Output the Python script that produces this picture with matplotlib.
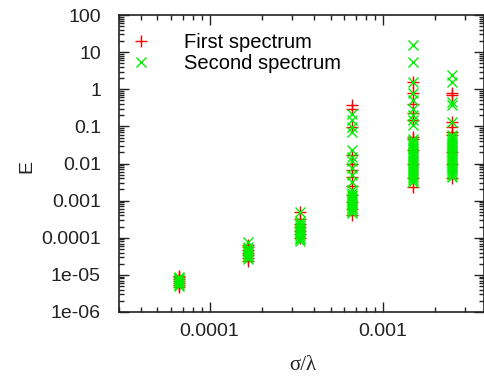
import matplotlib
matplotlib.use("Agg")
import matplotlib.pyplot as plt
from matplotlib.ticker import LogLocator, FixedLocator, FixedFormatter, NullFormatter

plt.rcParams['font.family'] = ['Liberation Sans', 'DejaVu Sans']

# sigma/lambda positions of the six clusters
sigma_lambda = [6.67e-5, 1.67e-4, 3.33e-4, 6.67e-4, 1.5e-3, 2.5e-3]

# First spectrum E values per cluster
first_E = [
    [4.7e-6, 5.3e-6, 6.0e-6, 6.8e-6, 7.6e-6, 8.5e-6, 9.4e-6],
    [2.4e-5, 2.9e-5, 3.4e-5, 4.0e-5, 4.7e-5, 5.5e-5, 6.3e-5],
    [1.0e-4, 1.25e-4, 1.55e-4, 1.9e-4, 2.4e-4, 3.2e-4, 4.8e-4],
    [4.0e-4, 6.0e-4, 9.0e-4, 1.4e-3, 2.5e-3, 4.4e-3, 6.7e-3, 9.8e-3, 0.017, 0.098, 0.29, 0.38],
    [2.4e-3, 4.0e-3, 0.01, 0.023, 0.045, 0.053, 0.15, 0.23, 0.4, 0.78, 1.6],
    [4.0e-3, 0.01, 0.02, 0.059, 0.072, 0.098, 0.13, 0.68, 0.78],
]

# Second spectrum E values per cluster
second_E = [
    [5.0e-6, 5.4e-6, 5.9e-6, 6.4e-6, 7.0e-6, 7.6e-6, 8.2e-6, 8.9e-6],
    [2.7e-5, 3.0e-5, 3.3e-5, 3.7e-5, 4.1e-5, 4.5e-5, 5.0e-5, 5.8e-5, 7.5e-5],
    [8.0e-5, 9.0e-5, 1.0e-4, 1.12e-4, 1.25e-4, 1.4e-4, 1.55e-4, 1.75e-4, 1.95e-4,
     2.2e-4, 2.5e-4, 2.8e-4, 4.8e-4],
    [4.6e-4, 5.2e-4, 5.8e-4, 6.5e-4, 7.3e-4, 8.2e-4, 9.2e-4, 1.03e-3, 1.15e-3, 1.3e-3,
     1.45e-3, 1.65e-3, 1.9e-3, 3.2e-3, 5.0e-3, 7.5e-3, 0.012, 0.015, 0.023,
     0.072, 0.098, 0.15, 0.21],
    [3.1e-3, 3.5e-3, 4.0e-3, 4.6e-3, 5.2e-3, 5.9e-3, 6.7e-3, 7.6e-3, 8.6e-3, 9.8e-3,
     0.011, 0.0125, 0.014, 0.016, 0.018, 0.021, 0.024, 0.027, 0.031, 0.035, 0.04,
     0.045, 0.11, 0.15, 0.2, 0.3, 0.5, 0.78, 1.6, 5.5, 15.6],
    [4.2e-3, 4.8e-3, 5.4e-3, 6.1e-3, 7.0e-3, 7.9e-3, 9.0e-3, 0.0102, 0.0116, 0.013,
     0.015, 0.017, 0.019, 0.022, 0.025, 0.028, 0.032, 0.036, 0.041, 0.047, 0.053,
     0.059, 0.13, 0.38, 0.46, 1.6, 2.4],
]

y_ticks = [1e-6, 1e-5, 1e-4, 1e-3, 1e-2, 1e-1, 1, 10, 100]
y_tick_labels = ["1e-06", "1e-05", "0.0001", "0.001", "0.01", "0.1", "1", "10", "100"]
x_ticks = [1e-4, 1e-3]
x_tick_labels = ["0.0001", "0.001"]

W, H = 485, 377
fig = plt.figure(figsize=(W / 100, H / 100), dpi=100)
ax = fig.add_axes([119 / W, 1 - 312 / H, 365 / W, 297 / H])

fx, fy = [], []
for xv, ys in zip(sigma_lambda, first_E):
    fx += [xv] * len(ys)
    fy += ys
sx, sy = [], []
for xv, ys in zip(sigma_lambda, second_E):
    sx += [xv] * len(ys)
    sy += ys

ax.plot(fx, fy, linestyle='none', marker='+', color='#ff0000', markersize=8.5,
        markeredgewidth=1.0, label='First spectrum')
ax.plot(sx, sy, linestyle='none', marker='x', color='#00ee00', markersize=7,
        markeredgewidth=1.0, label='Second spectrum')

ax.set_xscale('log')
ax.set_yscale('log')
ax.set_xlim(3e-5, 3.84e-3)
ax.set_ylim(1e-6, 100)

ax.yaxis.set_major_locator(FixedLocator(y_ticks))
ax.yaxis.set_major_formatter(FixedFormatter(y_tick_labels))
ax.xaxis.set_major_locator(FixedLocator(x_ticks))
ax.xaxis.set_major_formatter(FixedFormatter(x_tick_labels))
ax.xaxis.set_minor_locator(LogLocator(base=10, subs=range(2, 10), numticks=20))
ax.yaxis.set_minor_locator(LogLocator(base=10, subs=range(2, 10), numticks=20))
ax.xaxis.set_minor_formatter(NullFormatter())
ax.yaxis.set_minor_formatter(NullFormatter())

ax.tick_params(which='both', direction='in', top=True, right=True, labelsize=14,
               color='#222222', labelcolor='#222222')
ax.tick_params(which='major', length=7, width=1.0)
ax.tick_params(axis='x', which='major', pad=8)
ax.tick_params(axis='y', which='major', pad=13)
ax.tick_params(which='minor', length=3.6, width=1.0)
for s in ax.spines.values():
    s.set_linewidth(1.2)
    s.set_color('#222222')

ax.set_xlabel('σ/λ', fontsize=15, color='#222222', family=['Liberation Serif', 'DejaVu Serif'])
ax.xaxis.set_label_coords(0.504, -0.148)
ax.set_ylabel('E', fontsize=14, color='#222222')
ax.yaxis.set_label_coords(-0.23, 0.49)

ax.legend(loc='upper left', bbox_to_anchor=(131 / W, 1 - 33.5 / H), bbox_transform=fig.transFigure,
          frameon=False, fontsize=14.5, borderaxespad=0, borderpad=0, handlelength=1.0,
          handletextpad=1.65, labelspacing=0.09, markerscale=1.0)

fig.savefig('out.png', dpi=100)
